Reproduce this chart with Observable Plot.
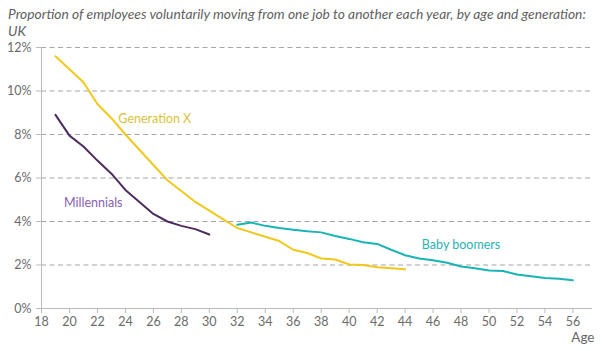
<!DOCTYPE html>
<html>
<head>
<meta charset="utf-8">
<script src="https://cdn.jsdelivr.net/npm/d3@7"></script>
<script src="https://cdn.jsdelivr.net/npm/@observablehq/plot@0.6"></script>
<style>
  body { margin: 0; background: #fff; }
  #title { font-family: Lato, "Open Sans", sans-serif; font-style: italic; font-size: 13.8px; line-height: 16.5px; color: #5f5f5f; padding: 6px 0 0 8px; height: 34px; white-space: nowrap; }
  #chart svg { display: block; }
</style>
</head>
<body>
<div id="title">Proportion of employees voluntarily moving from one job to another each year, by age and generation:<br>UK</div>
<div id="chart"></div>
<script>
const genXAges = [19,20,21,22,23,24,25,26,27,28,29,30,31,32,33,34,35,36,37,38,39,40,41,42,43,44];
const genXValues = [11.6,11.0,10.4,9.4,8.75,8.0,7.3,6.6,5.9,5.4,4.9,4.5,4.1,3.7,3.5,3.3,3.1,2.7,2.55,2.3,2.25,2.02,2.0,1.9,1.85,1.8];
const millAges = [19,20,21,22,23,24,25,26,27,28,29,30];
const millValues = [8.9,7.95,7.45,6.8,6.2,5.45,4.9,4.35,4.0,3.8,3.65,3.4];
const boomAges = [32,33,34,35,36,37,38,39,40,41,42,43,44,45,46,47,48,49,50,51,52,53,54,55,56];
const boomValues = [3.85,3.95,3.8,3.7,3.62,3.55,3.5,3.33,3.2,3.05,2.97,2.7,2.45,2.3,2.22,2.1,1.93,1.85,1.75,1.72,1.56,1.48,1.4,1.37,1.3];
const yTicks = [0,2,4,6,8,10,12];
const xTicks = d3.range(18, 57, 2);
const seriesNames = ["Generation X", "Millennials", "Baby boomers"];
const lineColors = ["#f2c81c", "#4e2b5e", "#1ab4b4"];
const labelColors = ["#d8c23c", "#8a5fb0", "#2ab3b3"];
const labelPos = [[26.1, 8.69], [21.7, 4.87], [48, 2.9]];

const series = [
  genXAges.map((a, i) => ({age: a, value: genXValues[i], series: seriesNames[0]})),
  millAges.map((a, i) => ({age: a, value: millValues[i], series: seriesNames[1]})),
  boomAges.map((a, i) => ({age: a, value: boomValues[i], series: seriesNames[2]}))
];
const labels = seriesNames.map((s, i) => ({age: labelPos[i][0], value: labelPos[i][1], name: s, color: labelColors[i]}));

const plot = Plot.plot({
  width: 602,
  height: 311,
  marginTop: 7,
  marginBottom: 43,
  marginLeft: 41,
  marginRight: 10,
  style: {fontFamily: "Lato, 'Open Sans', sans-serif", fontSize: "12.5px", color: "#666"},
  x: {domain: [18, 57.4]},
  y: {domain: [0, 12]},
  marks: [
    Plot.ruleY(yTicks.filter(d => d > 0), {stroke: "#a6a6a6", strokeWidth: 1.2, strokeDasharray: "5,3.5"}),
    Plot.axisY({ticks: yTicks, tickFormat: d => d + "%", tickSize: 5, tickPadding: 5, stroke: "#bbb", label: null, fill: "#6b6b6b"}),
    Plot.axisX({ticks: xTicks, tickFormat: d => d, tickSize: 5, tickPadding: 4, stroke: "#bbb", label: null, fill: "#6b6b6b"}),
    Plot.ruleX([18], {y1: 0, y2: 12, stroke: "#bbb"}),
    Plot.ruleY([0], {x1: 17.7, x2: 57.4, stroke: "#bbb"}),
    ...series.map((d, i) => Plot.line(d, {x: "age", y: "value", stroke: lineColors[i], strokeWidth: 2, curve: "linear"})),
    Plot.text(labels, {x: "age", y: "value", text: "name", fill: d => d.color, fontSize: 12.5}),
    Plot.text(["Age"], {frameAnchor: "bottom-right", dy: 33, textAnchor: "end", fontSize: 13.5, fill: "#666", dx: 2})
  ]
});
document.getElementById("chart").appendChild(plot);
</script>
</body>
</html>
